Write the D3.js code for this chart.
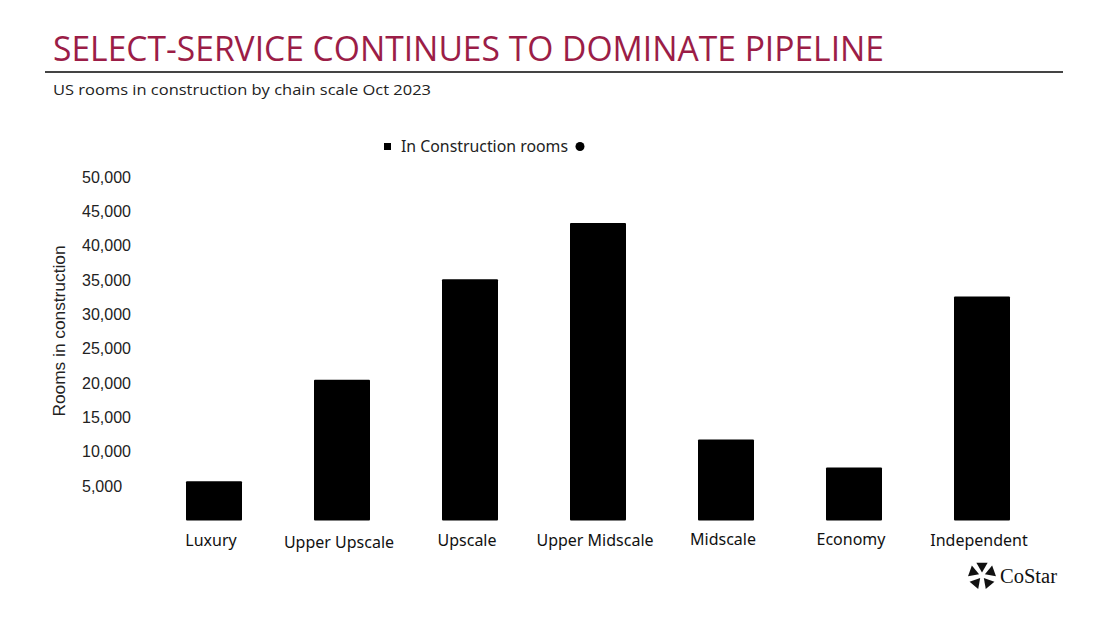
<!DOCTYPE html>
<html>
<head>
<meta charset="utf-8">
<script src="https://cdn.jsdelivr.net/npm/d3@7"></script>
<style>
  body { margin: 0; background: #fff; }
</style>
</head>
<body>
<div id="chart"></div>
<script>
const categories = ["Luxury", "Upper Upscale", "Upscale", "Upper Midscale", "Midscale", "Economy", "Independent"];
const rooms = [5700, 20500, 35100, 43300, 11800, 7700, 32600];
const yTicks = [5000, 10000, 15000, 20000, 25000, 30000, 35000, 40000, 45000, 50000];

const W = 1100, H = 640;
const svg = d3.select("#chart").append("svg")
  .attr("width", W)
  .attr("height", H);

// header
svg.append("text")
  .attr("x", 53)
  .attr("y", 61)
  .attr("textLength", 831)
  .attr("lengthAdjust", "spacingAndGlyphs")
  .style("font-family", "'Open Sans', sans-serif")
  .style("font-size", "35px")
  .style("fill", "#9b1d47")
  .text("SELECT-SERVICE CONTINUES TO DOMINATE PIPELINE");

svg.append("line")
  .attr("x1", 45).attr("x2", 1063)
  .attr("y1", 72).attr("y2", 72)
  .attr("stroke", "#444")
  .attr("stroke-width", 2);

svg.append("text")
  .attr("x", 53)
  .attr("y", 95)
  .attr("textLength", 378)
  .attr("lengthAdjust", "spacingAndGlyphs")
  .style("font-family", "'Open Sans', sans-serif")
  .style("font-size", "15px")
  .style("fill", "#222")
  .text("US rooms in construction by chain scale Oct 2023");

// scales
const x = d3.scaleBand()
  .domain(categories)
  .range([150, 1046])
  .paddingInner(0.5625)
  .paddingOuter(0.28125);

const y = d3.scaleLinear()
  .domain([0, 50000])
  .range([520.5, 177]);

// y axis labels (no line, no ticks)
const yAxis = svg.append("g")
  .attr("transform", "translate(82,0)")
  .call(d3.axisRight(y).tickValues(yTicks).tickSize(0).tickPadding(0).tickFormat(d3.format(",")));
yAxis.select(".domain").remove();
yAxis.selectAll("text")
  .style("font-family", "'Liberation Sans', Arial, sans-serif")
  .style("font-size", "16px")
  .style("fill", "#222");

svg.append("text")
  .attr("transform", "translate(65,331) rotate(-90)")
  .attr("text-anchor", "middle")
  .attr("textLength", 171)
  .attr("lengthAdjust", "spacingAndGlyphs")
  .style("font-family", "'Liberation Sans', Arial, sans-serif")
  .style("font-size", "17px")
  .style("fill", "#222")
  .text("Rooms in construction");

// bars
svg.append("g")
  .selectAll("rect")
  .data(categories)
  .join("rect")
  .attr("x", d => x(d))
  .attr("width", x.bandwidth())
  .attr("y", (d, i) => y(rooms[i]))
  .attr("height", (d, i) => y(0) - y(rooms[i]))
  .attr("rx", 1)
  .attr("fill", "#000");

// x labels
const xAxis = svg.append("g")
  .attr("transform", "translate(-3,526)")
  .call(d3.axisBottom(x).tickSize(0).tickPadding(0));
xAxis.select(".domain").remove();
xAxis.selectAll("text")
  .attr("dy", "0.71em")
  .attr("y", (d, i) => i === 1 ? 11 : (i === 4 || i === 5 ? 8 : 9))
  .style("font-family", "'Noto Sans', 'Open Sans', sans-serif")
  .style("font-size", "16px")
  .style("fill", "#111");

// legend
const legend = svg.append("g");
legend.append("rect")
  .attr("x", 384).attr("y", 143)
  .attr("width", 7).attr("height", 7)
  .attr("fill", "#000");
legend.append("text")
  .attr("x", 401).attr("y", 152)
  .attr("textLength", 167)
  .attr("lengthAdjust", "spacingAndGlyphs")
  .style("font-family", "'Noto Sans', sans-serif")
  .style("font-size", "15.5px")
  .style("fill", "#222")
  .text("In Construction rooms");
legend.append("circle")
  .attr("cx", 580).attr("cy", 146.5)
  .attr("r", 4.5)
  .attr("fill", "#000");

// CoStar logo
const logo = svg.append("g").attr("transform", "translate(982,575)");
const petal = d3.symbol().type(d3.symbolTriangle).size(55);
[[0, -9, 180], [9, -3, 250], [6, 8, 320], [-6, 8, 40], [-9, -3, 110]].forEach(p => {
  logo.append("path")
    .attr("d", petal())
    .attr("transform", `translate(${p[0]},${p[1]}) rotate(${p[2]})`)
    .attr("fill", "#111");
});
svg.append("text")
  .attr("x", 1000).attr("y", 583)
  .attr("textLength", 57)
  .attr("lengthAdjust", "spacingAndGlyphs")
  .style("font-family", "'Liberation Serif', 'DejaVu Serif', serif")
  .style("font-size", "20px")
  .style("fill", "#111")
  .text("CoStar");
</script>
</body>
</html>
